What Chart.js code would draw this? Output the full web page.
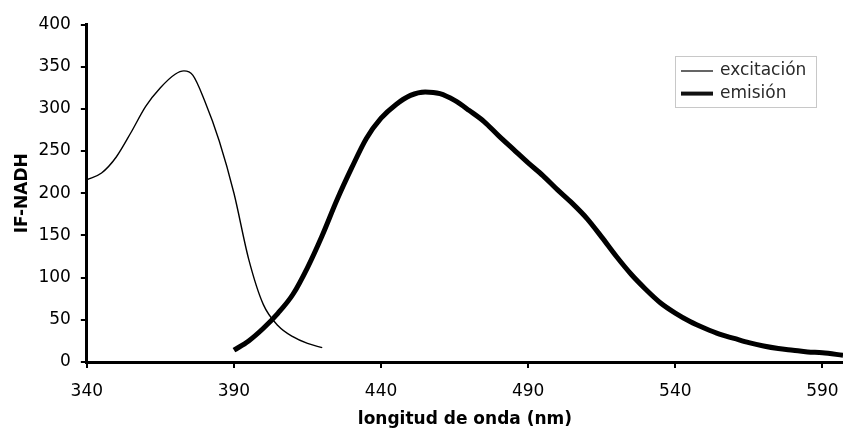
<!DOCTYPE html>
<html>
<head>
<meta charset="utf-8">
<script src="https://cdn.jsdelivr.net/npm/chart.js@4/dist/chart.umd.min.js"></script>
<style>
  html, body { margin: 0; padding: 0; background: #fff; }
  #wrap { width: 843px; height: 428px; }
</style>
</head>
<body>
<div id="wrap"><canvas id="chart"></canvas></div>
<script>
// --- data ---
const excWavelengths = [340, 345, 350, 355, 360, 365, 370, 373, 376, 380, 385, 390, 395, 400, 405, 410, 415, 420];
const excitacion     = [216, 224, 243, 272, 303, 325, 341, 345, 340, 310, 262, 200, 122, 68, 43, 30, 22, 17];

const emWavelengths = [390, 395, 400, 405, 410, 415, 420, 425, 430, 435, 440, 445, 450, 455, 460, 465, 470, 475,
                       480, 485, 490, 495, 500, 505, 510, 515, 520, 525, 530, 535, 540, 545, 550, 555, 560, 565,
                       570, 575, 580, 585, 590, 597];
const emision       = [14, 25, 40, 58, 80, 112, 150, 192, 230, 265, 289, 305, 316, 320, 318, 310, 298, 285,
                       268, 252, 236, 221, 204, 188, 170, 148, 125, 104, 86, 70, 58, 48, 40, 33, 28, 23,
                       19, 16, 14, 12, 11, 8];

const xTicks = [340, 390, 440, 490, 540, 590];
const yTicks = [0, 50, 100, 150, 200, 250, 300, 350, 400];

const FONT = '"DejaVu Sans", Verdana, sans-serif';

const toPoints = (xs, ys) => xs.map((x, i) => ({ x, y: ys[i] }));

// small boxed legend in the top right, like the original
const legendBox = {
  id: 'legendBox',
  afterDraw(chart) {
    const { ctx } = chart;
    const x0 = 675, y0 = 56, w = 141, h = 51;
    ctx.save();
    ctx.strokeStyle = '#c8c8c8';
    ctx.lineWidth = 1;
    ctx.strokeRect(x0 + 0.5, y0 + 0.5, w, h);
    ctx.font = '17px ' + FONT;
    ctx.fillStyle = '#2a2a2a';
    ctx.textBaseline = 'middle';
    chart.data.datasets.forEach((ds, i) => {
      const y = y0 + 15 + i * 22.6;
      ctx.strokeStyle = '#111';
      ctx.lineWidth = i === 0 ? 1.3 : 4;
      ctx.beginPath();
      ctx.moveTo(x0 + 6, y);
      ctx.lineTo(x0 + 38, y);
      ctx.stroke();
      ctx.fillText(ds.label, x0 + 45, y);
    });
    ctx.restore();
  }
};

new Chart(document.getElementById('chart'), {
  type: 'line',
  data: {
    datasets: [
      {
        label: 'excitación',
        data: toPoints(excWavelengths, excitacion),
        borderColor: '#000',
        borderWidth: 1.4,
        pointRadius: 0,
        cubicInterpolationMode: 'monotone',
        fill: false,
      },
      {
        label: 'emisión',
        data: toPoints(emWavelengths, emision),
        borderColor: '#000',
        borderWidth: 5,
        pointRadius: 0,
        cubicInterpolationMode: 'monotone',
        fill: false,
      }
    ]
  },
  options: {
    responsive: true,
    maintainAspectRatio: false,
    animation: false,
    layout: { padding: { left: 8, top: 24.5, right: 0, bottom: 0 } },
    scales: {
      x: {
        type: 'linear',
        min: 340, max: 597,
        afterBuildTicks: axis => { axis.ticks = xTicks.map(v => ({ value: v })); },
        // tall line height pushes the labels down without widening the right padding
        ticks: { color: '#000', font: { family: FONT, size: 17, lineHeight: 2.34 }, padding: 4, maxRotation: 0 },
        grid: { drawOnChartArea: false, color: '#000', lineWidth: 2, tickLength: 6 },
        border: { color: '#000', width: 3 },
        title: {
          display: true,
          text: 'longitud de onda (nm)',
          color: '#000',
          font: { family: FONT, size: 17, weight: 'bold', lineHeight: 1 },
          padding: { top: -4.8, bottom: 0 },
        }
      },
      y: {
        min: 0, max: 400,
        afterBuildTicks: axis => { axis.ticks = yTicks.map(v => ({ value: v })); },
        ticks: { color: '#000', font: { family: FONT, size: 17 }, padding: 10 },
        grid: { drawOnChartArea: false, color: '#000', lineWidth: 2, tickLength: 6 },
        border: { color: '#000', width: 3 },
        title: {
          display: true,
          text: 'IF-NADH',
          color: '#000',
          font: { family: FONT, size: 17, weight: 'bold' },
          padding: { top: 4, bottom: -4 },
        }
      }
    },
    plugins: {
      legend: { display: false },
      tooltip: { enabled: false },
    }
  },
  plugins: [legendBox]
});
</script>
</body>
</html>
